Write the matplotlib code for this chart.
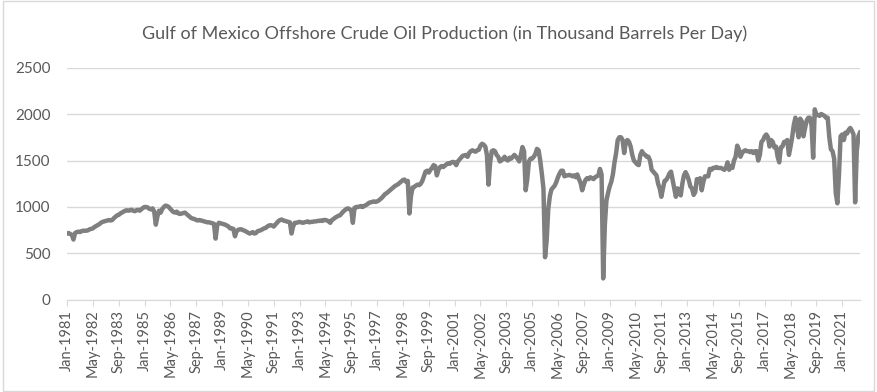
import numpy as np
import pandas as pd
import matplotlib
matplotlib.use("Agg")
import matplotlib.pyplot as plt
from matplotlib.patches import Rectangle

# ---------------------------------------------------------------
# Datos: producción mensual (miles de barriles/día), ene-1981 a dic-2021
# ---------------------------------------------------------------
prod_1981 = [715, 720, 710, 700, 650, 720, 730, 735, 730, 740, 745, 745]
prod_1982 = [745, 750, 760, 765, 770, 785, 795, 805, 815, 830, 840, 845]
prod_1983 = [850, 855, 860, 855, 860, 880, 895, 910, 915, 930, 940, 950]
prod_1984 = [960, 965, 960, 965, 970, 960, 955, 965, 970, 960, 975, 990]
prod_1985 = [1000, 1000, 995, 980, 975, 985, 950, 810, 900, 960, 940, 980]
prod_1986 = [1000, 1015, 1010, 1000, 980, 960, 945, 940, 950, 930, 925, 930]
prod_1987 = [935, 940, 925, 910, 895, 880, 875, 870, 860, 855, 860, 855]
prod_1988 = [850, 845, 840, 835, 835, 830, 825, 820, 660, 800, 830, 825]
prod_1989 = [820, 815, 810, 800, 790, 770, 770, 765, 685, 740, 755, 760]
prod_1990 = [760, 750, 745, 735, 725, 715, 720, 730, 715, 720, 740, 745]
prod_1991 = [750, 760, 770, 775, 790, 800, 805, 800, 790, 810, 830, 850]
prod_1992 = [860, 865, 855, 850, 845, 840, 835, 715, 790, 830, 830, 835]
prod_1993 = [840, 835, 830, 835, 840, 845, 835, 840, 840, 845, 845, 850]
prod_1994 = [850, 855, 850, 860, 860, 855, 845, 830, 860, 870, 885, 895]
prod_1995 = [905, 910, 930, 950, 965, 980, 985, 975, 965, 830, 990, 1000]
prod_1996 = [1000, 1005, 1010, 1000, 1010, 1020, 1030, 1045, 1050, 1055, 1060, 1055]
prod_1997 = [1060, 1070, 1085, 1100, 1120, 1140, 1150, 1165, 1180, 1195, 1210, 1225]
prod_1998 = [1235, 1245, 1260, 1275, 1290, 1295, 1270, 1280, 930, 1120, 1210, 1215]
prod_1999 = [1230, 1240, 1235, 1250, 1280, 1330, 1380, 1390, 1370, 1400, 1420, 1450]
prod_2000 = [1440, 1340, 1400, 1430, 1440, 1430, 1445, 1460, 1470, 1465, 1480, 1485]
prod_2001 = [1480, 1450, 1490, 1510, 1530, 1550, 1555, 1560, 1540, 1580, 1600, 1610]
prod_2002 = [1600, 1595, 1610, 1615, 1660, 1680, 1670, 1650, 1560, 1240, 1480, 1600]
prod_2003 = [1610, 1600, 1560, 1540, 1490, 1500, 1520, 1540, 1510, 1500, 1530, 1520]
prod_2004 = [1540, 1560, 1540, 1520, 1490, 1560, 1645, 1600, 1180, 1300, 1490, 1520]
prod_2005 = [1520, 1540, 1570, 1625, 1610, 1500, 1360, 1200, 460, 640, 980, 1120]
prod_2006 = [1190, 1210, 1230, 1270, 1320, 1360, 1390, 1390, 1330, 1340, 1340, 1345]
prod_2007 = [1340, 1330, 1340, 1320, 1350, 1300, 1260, 1180, 1240, 1290, 1310, 1300]
prod_2008 = [1320, 1310, 1300, 1320, 1330, 1340, 1410, 1350, 232, 800, 1070, 1150]
prod_2009 = [1220, 1270, 1350, 1480, 1580, 1720, 1750, 1750, 1720, 1580, 1700, 1720]
prod_2010 = [1700, 1650, 1560, 1500, 1480, 1460, 1450, 1560, 1600, 1570, 1560, 1540]
prod_2011 = [1540, 1500, 1400, 1380, 1360, 1340, 1250, 1200, 1110, 1200, 1280, 1290]
prod_2012 = [1320, 1360, 1380, 1290, 1200, 1110, 1200, 1180, 1125, 1250, 1340, 1375]
prod_2013 = [1340, 1290, 1220, 1200, 1130, 1160, 1300, 1280, 1310, 1180, 1270, 1330]
prod_2014 = [1330, 1330, 1410, 1400, 1420, 1420, 1430, 1420, 1420, 1420, 1410, 1400]
prod_2015 = [1420, 1480, 1400, 1440, 1420, 1500, 1540, 1660, 1620, 1540, 1580, 1600]
prod_2016 = [1610, 1600, 1600, 1590, 1600, 1580, 1600, 1600, 1500, 1560, 1700, 1720]
prod_2017 = [1760, 1780, 1750, 1650, 1720, 1700, 1640, 1650, 1540, 1480, 1640, 1650]
prod_2018 = [1700, 1700, 1720, 1560, 1650, 1750, 1880, 1960, 1850, 1750, 1950, 1920]
prod_2019 = [1760, 1850, 1930, 1960, 1960, 1880, 1530, 2050, 1990, 1990, 1980, 2000]
prod_2020 = [1990, 1980, 1960, 1960, 1750, 1620, 1600, 1520, 1150, 1040, 1350, 1760]
prod_2021 = [1780, 1720, 1800, 1790, 1830, 1850, 1820, 1780, 1050, 1600, 1760, 1800]

produccion = (prod_1981 + prod_1982 + prod_1983 + prod_1984 + prod_1985 + prod_1986
              + prod_1987 + prod_1988 + prod_1989 + prod_1990 + prod_1991 + prod_1992
              + prod_1993 + prod_1994 + prod_1995 + prod_1996 + prod_1997 + prod_1998
              + prod_1999 + prod_2000 + prod_2001 + prod_2002 + prod_2003 + prod_2004
              + prod_2005 + prod_2006 + prod_2007 + prod_2008 + prod_2009 + prod_2010
              + prod_2011 + prod_2012 + prod_2013 + prod_2014 + prod_2015 + prod_2016
              + prod_2017 + prod_2018 + prod_2019 + prod_2020 + prod_2021)

fechas = pd.date_range("1981-01-01", periods=len(produccion), freq="MS")
etiquetas = [f.strftime("%b-%Y") for f in fechas]

TITULO = "Gulf of Mexico Offshore Crude Oil Production (in Thousand Barrels Per Day)"
GRIS_TXT = "#595959"
GRIS_LINEA = "#7f7f7f"
GRIS_GRID = "#d9d9d9"

plt.rcParams['font.family'] = ['Lato', 'DejaVu Sans']

# ---------------------------------------------------------------
# Figura
# ---------------------------------------------------------------
fig = plt.figure(figsize=(8.77, 3.92), dpi=100, facecolor='white')
ax = fig.add_axes([0.0764, 0.2347, 0.9042, 0.5931])

x = np.arange(len(produccion))
ax.plot(x, produccion, color=GRIS_LINEA, lw=3.2, solid_joinstyle='round')

ax.set_xlim(0, len(produccion) - 1)
ax.set_ylim(0, 2500)
ax.set_yticks(np.arange(0, 2501, 500))
ax.yaxis.grid(True, color=GRIS_GRID, lw=1.0)
ax.set_axisbelow(True)

ticks = x[::16]
ax.set_xticks(ticks)
ax.set_xticklabels([etiquetas[i] for i in ticks], rotation=90, fontsize=10.5, color=GRIS_TXT)
ax.tick_params(axis='x', length=4, color=GRIS_GRID, pad=3)
ax.tick_params(axis='y', length=0, labelsize=11, labelcolor=GRIS_TXT, pad=12)

for lado in ['top', 'right', 'left']:
    ax.spines[lado].set_visible(False)
ax.spines['bottom'].set_color(GRIS_GRID)

fig.text(0.507, 0.915, TITULO, ha='center', va='center', fontsize=13, color=GRIS_TXT)

# Borde del área del gráfico (estilo Excel)
fig.patches.append(Rectangle((0.003, 0.003), 0.994, 0.994, transform=fig.transFigure,
                             fill=False, edgecolor=GRIS_GRID, lw=1.0))

plt.savefig("out.png", dpi=100, facecolor='white')
